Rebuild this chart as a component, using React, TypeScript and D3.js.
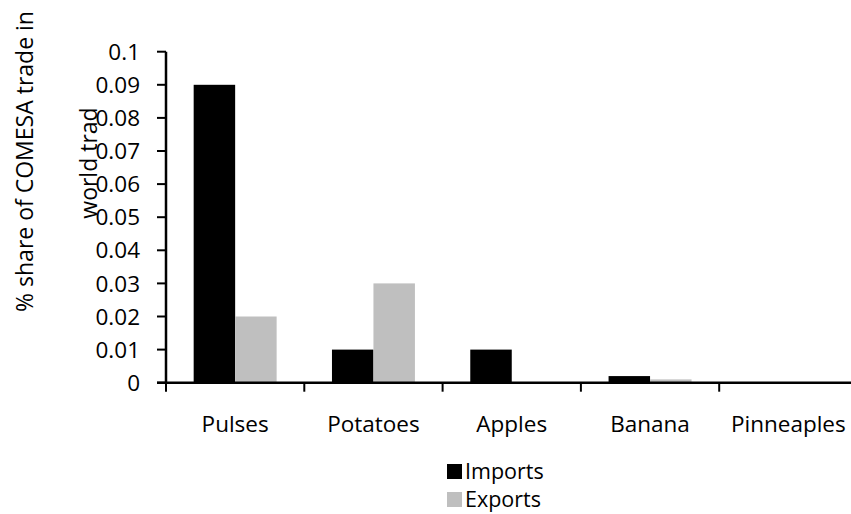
import React from "react";
import * as d3 from "d3";

const categories = ["Pulses", "Potatoes", "Apples", "Banana", "Pinneaples"];
const seriesNames = ["Imports", "Exports"];
const imports = [0.09, 0.01, 0.01, 0.002, 0];
const exports = [0.02, 0.03, 0, 0.001, 0];
const yTicks = [0, 0.01, 0.02, 0.03, 0.04, 0.05, 0.06, 0.07, 0.08, 0.09, 0.1];
const colors = ["#000000", "#bfbfbf"];

const W = 851;
const H = 514;
const FONT = "'Open Sans', sans-serif";
const FS = 22.5;

export default function App() {
  const left = 166;
  const right = 857.5;
  const top = 51.7;
  const bottom = 382.7;

  const x0 = d3.scaleBand<string>().domain(categories).range([left, right]).paddingInner(0).paddingOuter(0);
  const x1 = d3
    .scaleBand<string>()
    .domain(seriesNames)
    .range([0, x0.bandwidth()])
    .paddingInner(0)
    .paddingOuter(0.667);
  const y = d3.scaleLinear().domain([0, 0.1]).range([bottom, top]);
  const fmt = d3.format("~g");
  const values = [imports, exports];

  const boundaries = categories.map((c) => x0(c) as number).concat([right]);

  return (
    <svg
      width={W}
      height={H}
      style={{ position: "absolute", left: 0, top: 0, background: "#fff" }}
      fontFamily={FONT}
    >
      <rect x={0} y={0} width={W} height={H} fill="#fff" />
      {/* bars */}
      {categories.map((c, i) =>
        seriesNames.map((s, j) => {
          const v = values[j][i];
          const bx = (x0(c) as number) + (x1(s) as number);
          return (
            <rect
              key={c + s}
              x={bx}
              y={y(v)}
              width={x1.bandwidth()}
              height={bottom - y(v)}
              fill={colors[j]}
            />
          );
        })
      )}
      {/* y axis */}
      <line x1={left} x2={left} y1={top} y2={bottom} stroke="#000" strokeWidth={2.5} />
      {yTicks.map((t) => (
        <g key={t}>
          <line x1={left - 9} x2={left} y1={y(t)} y2={y(t)} stroke="#000" strokeWidth={2} />
          <text
            x={140}
            y={y(t)}
            dy="0.36em"
            textAnchor="end"
            fontSize={FS}
            fill="#000"
          >
            {fmt(t)}
          </text>
        </g>
      ))}
      {/* x axis */}
      <line x1={left - 9} x2={right} y1={bottom} y2={bottom} stroke="#000" strokeWidth={2.5} />
      {boundaries.map((b, i) => (
        <line key={i} x1={b} x2={b} y1={bottom} y2={bottom + 9} stroke="#000" strokeWidth={2} />
      ))}
      {categories.map((c) => (
        <text
          key={c}
          x={(x0(c) as number) + x0.bandwidth() / 2}
          y={432}
          textAnchor="middle"
          fontSize={FS}
          fill="#000"
        >
          {c}
        </text>
      ))}
      {/* y axis title */}
      <text
        transform={`translate(33, 161.5) rotate(-90)`}
        textAnchor="middle"
        fontSize={23}
        fill="#000"
      >
        % share of COMESA trade in
      </text>
      <text
        transform={`translate(97, 163) rotate(-90)`}
        textAnchor="middle"
        fontSize={23}
        fill="#000"
      >
        world trad
      </text>
      {/* legend */}
      {seriesNames.map((s, j) => (
        <g key={s} transform={`translate(447, ${464 + j * 28})`}>
          <rect x={0} y={0} width={15} height={15} fill={colors[j]} />
          <text x={18} y={15} fontSize={21.5} fill="#000">
            {s}
          </text>
        </g>
      ))}
    </svg>
  );
}
